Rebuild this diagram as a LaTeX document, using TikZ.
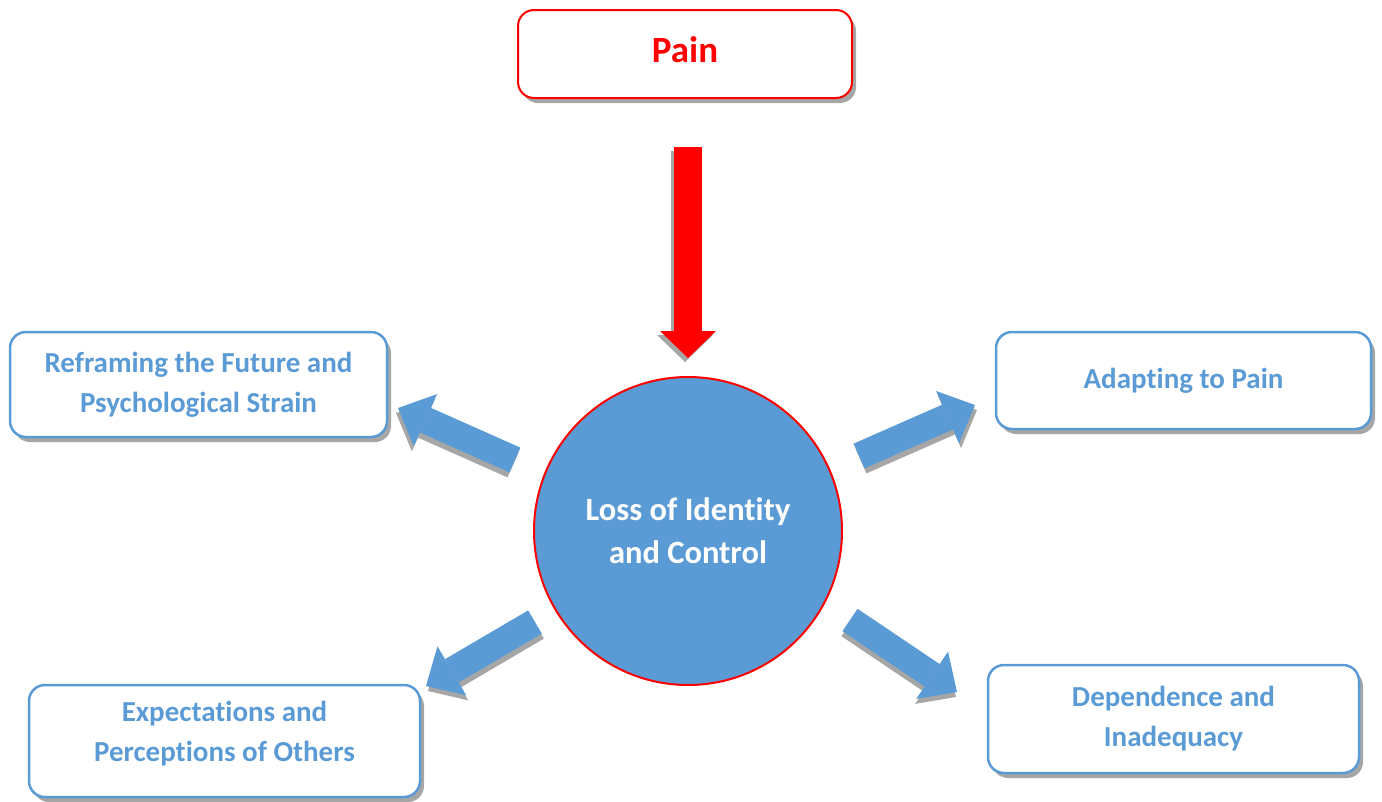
\documentclass[tikz,border=0pt]{standalone}
\usepackage{fontspec}
\setmainfont{Carlito}[Ligatures=CommonOff]
\usetikzlibrary{arrows.meta,shadows}

\definecolor{themeblue}{HTML}{5B9BD5}
\definecolor{painred}{HTML}{FF0000}
\definecolor{shadowgray}{HTML}{A6A6A6}

\begin{document}
\begin{tikzpicture}[x=1pt, y=-1pt,
    themebox/.style={draw=themeblue, line width=2.5pt, rounded corners=16pt, fill=white,
        align=center, text=themeblue, font=\fontsize{29}{40}\selectfont\bfseries,
        drop shadow={shadow xshift=4pt, shadow yshift=-5pt, fill=shadowgray, opacity=1}},
    fatarrow/.style={line width=27pt, -{Triangle[width=57pt, length=30pt, line width=0pt]}}]

    % Fix the page to the reference size
    \useasboundingbox (0,0) rectangle (1382,801);

    % Top box
    \node[themebox, draw=painred, line width=2pt, text=painred, font=\fontsize{37}{44}\selectfont\bfseries,
        minimum width=334pt, minimum height=88pt] (pain) at (685,54) {Pain\\[-36pt]\mbox{}};

    % Central circle
    \node[circle, draw=painred, line width=2pt, fill=themeblue, minimum size=308pt,
        align=center, text=white, font=\fontsize{32.5}{43}\selectfont\bfseries] (loss) at (688,531)
        {Loss of Identity\\and Control};

    % Outer themes
    \node[themebox, minimum width=377pt, minimum height=105pt] (reframe) at (198.5,384.5)
        {Reframing the Future and\\Psychological Strain};
    \node[themebox, minimum width=375pt, minimum height=97pt] (adapt) at (1183.5,380.5)
        {Adapting to Pain};
    \node[themebox, minimum width=391pt, minimum height=112pt] (expect) at (224.5,741)
        {Expectations and\\Perceptions of Others\\[-20pt]\mbox{}};
    \node[themebox, minimum width=371pt, minimum height=108pt] (depend) at (1173.5,719)
        {Dependence and\\Inadequacy};

    % Arrow ends
    \coordinate (painTail) at (688,147);
    \coordinate (painTip) at (688,358);
    \coordinate (ulTail) at (515,460);
    \coordinate (ulTip) at (398,408);
    \coordinate (urTail) at (859,456);
    \coordinate (urTip) at (975,405);
    \coordinate (lrTail) at (850,620);
    \coordinate (lrTip) at (957,692);
    \coordinate (llTail) at (535,622);
    \coordinate (llTip) at (426,686);

    % Red arrow into the circle
    \draw[line width=28pt, -{Triangle[width=56pt, length=27pt, line width=0pt]}, shadowgray,
        transform canvas={shift={(-3,4)}}] (painTail) -- (painTip);
    \draw[line width=28pt, -{Triangle[width=56pt, length=27pt, line width=0pt]}, painred]
        (painTail) -- (painTip);

    % Blue arrows out of the circle
    \foreach \from/\to/\dx/\dy in {ulTail/ulTip/-2/5, urTail/urTip/2/5, lrTail/lrTip/-1/5, llTail/llTip/2/5} {
        \draw[fatarrow, shadowgray, transform canvas={shift={(\dx,\dy)}}] (\from) -- (\to);
        \draw[fatarrow, themeblue] (\from) -- (\to);
    }
\end{tikzpicture}
\end{document}
